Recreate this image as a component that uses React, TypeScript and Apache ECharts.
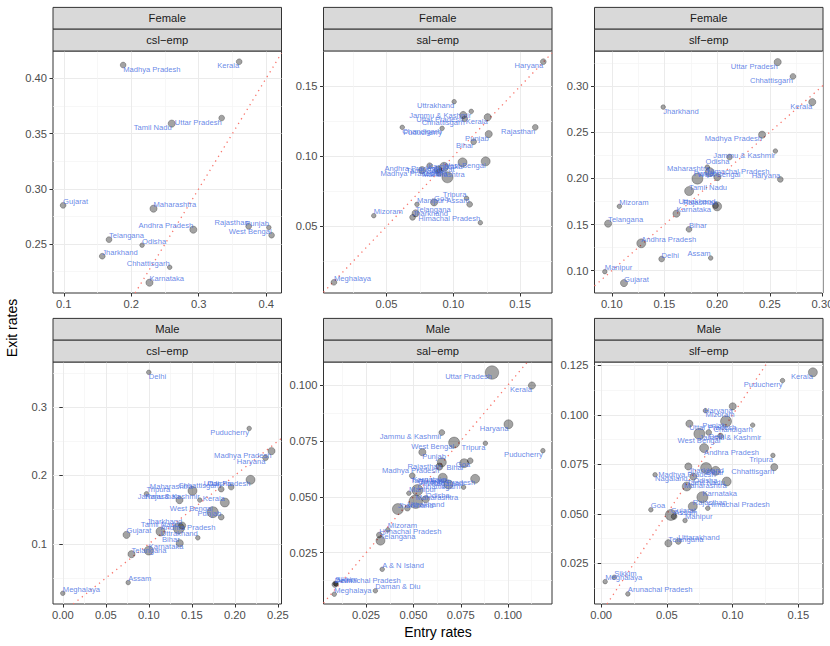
import React, { useEffect, useRef } from "react";
import * as echarts from "echarts";

const rowLabels = ["Female", "Male"];
const colLabels = ["csl\u2212emp", "sal\u2212emp", "slf\u2212emp"];

// ---- Female, csl-emp ----
const fCslNames = ["Madhya Pradesh", "Kerala", "Uttar Pradesh", "Tamil Nadu", "Gujarat", "Maharashtra", "Andhra Pradesh", "Rajasthan", "Punjab", "West Bengal", "Telangana", "Odisha", "Jharkhand", "Chhattisgarh", "Karnataka"];
const fCslEntry = [0.188, 0.360, 0.334, 0.260, 0.099, 0.233, 0.292, 0.374, 0.404, 0.408, 0.167, 0.216, 0.157, 0.257, 0.227];
const fCslExit = [0.412, 0.415, 0.364, 0.359, 0.285, 0.282, 0.263, 0.266, 0.265, 0.258, 0.254, 0.249, 0.239, 0.229, 0.215];
const fCslWeight = [2, 2, 2, 3, 2, 3, 3, 2, 1, 2, 2, 1, 2, 1, 3];
const fCslXTicks = [0.1, 0.2, 0.3, 0.4];
const fCslYTicks = [0.25, 0.3, 0.35, 0.4];

// ---- Female, sal-emp ----
const fSalNames = ["Haryana", "Uttrakhand", "Jammu & Kashmir", "Uttar Pradesh", "Chhattisgarh", "Kerala", "Chandigarh", "Puducherry", "Rajasthan", "Punjab", "Bihar", "West Bengal", "Karnataka", "Gujarat", "Tamil Nadu", "Madhya Pradesh", "Andhra Pradesh", "Maharashtra", "Odisha", "Tripura", "Assam", "Manipur", "Goa", "Telangana", "Jharkhand", "Himachal Pradesh", "Mizoram", "Meghalaya"];
const fSalEntry = [0.1673, 0.1006, 0.1134, 0.1074, 0.1085, 0.1257, 0.0618, 0.0916, 0.1613, 0.1265, 0.1152, 0.1242, 0.1069, 0.0823, 0.0931, 0.0885, 0.0895, 0.0766, 0.0956, 0.1099, 0.1122, 0.0728, 0.0856, 0.0718, 0.0695, 0.1202, 0.0405, 0.0107];
const fSalExit = [0.1676, 0.139, 0.1321, 0.1295, 0.1268, 0.1279, 0.1207, 0.120, 0.1207, 0.1159, 0.1104, 0.0964, 0.0957, 0.0933, 0.0925, 0.0905, 0.0885, 0.0902, 0.085, 0.070, 0.0657, 0.0657, 0.0671, 0.0593, 0.0564, 0.0526, 0.0576, 0.010];
const fSalWeight = [2, 1, 1, 3, 2, 3, 1, 1, 2, 3, 2, 4, 4, 2, 4, 3, 3, 3, 5, 1, 2, 1, 3, 3, 2, 1, 1, 2];
const fSalXTicks = [0.05, 0.1, 0.15];
const fSalYTicks = [0.05, 0.1, 0.15];

// ---- Female, slf-emp ----
const fSlfNames = ["Uttar Pradesh", "Chhattisgarh", "Kerala", "Jharkhand", "Madhya Pradesh", "Jammu & Kashmir", "Odisha", "Himachal Pradesh", "Maharashtra", "West Bengal", "Punjab", "Haryana", "Tamil Nadu", "Rajasthan", "Uttrakhand", "Karnataka", "Mizoram", "Telangana", "Bihar", "Andhra Pradesh", "Delhi", "Assam", "Manipur", "Gujarat"];
const fSlfEntry = [0.2575, 0.272, 0.2903, 0.1488, 0.2427, 0.2553, 0.2118, 0.1907, 0.1929, 0.1813, 0.2002, 0.26, 0.1734, 0.2, 0.1985, 0.1614, 0.1072, 0.0965, 0.1733, 0.128, 0.1473, 0.1939, 0.0934, 0.1116];
const fSlfExit = [0.3259, 0.3104, 0.2826, 0.2772, 0.2473, 0.2296, 0.2231, 0.2122, 0.2068, 0.1997, 0.2014, 0.1989, 0.1863, 0.1697, 0.1705, 0.1618, 0.1697, 0.151, 0.1448, 0.1297, 0.1127, 0.1138, 0.099, 0.0867];
const fSlfWeight = [3, 2, 3, 1, 3, 1, 2, 1, 4, 5, 3, 2, 4, 4, 2, 3, 1, 3, 2, 4, 2, 1, 1, 3];
const fSlfXTicks = [0.1, 0.15, 0.2, 0.25, 0.3];
const fSlfYTicks = [0.1, 0.15, 0.2, 0.25, 0.3];

// ---- Male, csl-emp ----
const mCslNames = ["Delhi", "Puducherry", "Madhya Pradesh", "Haryana", "Uttar Pradesh", "Odisha", "Chhattisgarh", "Maharashtra", "Tripura", "Jammu & Kashmir", "Rajasthan", "Kerala", "West Bengal", "Punjab", "Jharkhand", "Tamil Nadu", "Andhra Pradesh", "Uttrakhand", "Bihar", "Gujarat", "Karnataka", "Telangana", "Assam", "Meghalaya"];
const mCslEntry = [0.100, 0.2167, 0.2427, 0.2357, 0.2183, 0.1958, 0.1842, 0.1508, 0.0973, 0.1593, 0.1357, 0.1884, 0.1744, 0.1842, 0.1388, 0.1349, 0.1136, 0.157, 0.136, 0.0741, 0.100, 0.0799, 0.076, 0.0];
const mCslExit = [0.3508, 0.2688, 0.2357, 0.2259, 0.1937, 0.183, 0.180, 0.1776, 0.1732, 0.164, 0.164, 0.1605, 0.1464, 0.1391, 0.1268, 0.123, 0.118, 0.1088, 0.101, 0.1132, 0.0902, 0.0849, 0.0434, 0.0278];
const mCslWeight = [1, 1, 3, 2, 4, 2, 2, 4, 1, 1, 3, 4, 5, 2, 3, 5, 4, 1, 3, 3, 4, 3, 1, 1];
const mCslXTicks = [0, 0.05, 0.1, 0.15, 0.2, 0.25];
const mCslYTicks = [0.1, 0.2, 0.3];

// ---- Male, sal-emp ----
const mSalNames = ["Uttar Pradesh", "Kerala", "Haryana", "Jammu & Kashmir", "Tripura", "West Bengal", "Puducherry", "Punjab", "Madhya Pradesh", "Bihar", "Goa", "Rajasthan", "Karnataka", "Gujarat", "Andhra Pradesh", "Tamil Nadu", "Nagaland", "Chhattisgarh", "Manipur", "Odisha", "Maharashtra", "Jharkhand", "Uttrakhand", "Mizoram", "Himachal Pradesh", "Telangana", "A & N Island", "Sikkim", "Arunachal Pradesh", "Delhi", "Daman & Diu", "Meghalaya"];
const mSalEntry = [0.0915, 0.1126, 0.1002, 0.065, 0.088, 0.0715, 0.1184, 0.0547, 0.0637, 0.0768, 0.080, 0.065, 0.0494, 0.0655, 0.0826, 0.0685, 0.0765, 0.0521, 0.0476, 0.0565, 0.0512, 0.0418, 0.0468, 0.0365, 0.032, 0.0326, 0.0335, 0.0087, 0.0092, 0.0085, 0.0299, 0.0082];
const mSalExit = [0.1055, 0.0997, 0.0824, 0.0787, 0.0739, 0.0742, 0.0706, 0.0699, 0.0635, 0.065, 0.0661, 0.0654, 0.0594, 0.0585, 0.058, 0.0555, 0.0543, 0.053, 0.0516, 0.0489, 0.0478, 0.0445, 0.0449, 0.0352, 0.0329, 0.0304, 0.0176, 0.0113, 0.011, 0.0108, 0.008, 0.0065];
const mSalWeight = [6, 3, 4, 2, 1, 5, 1, 3, 3, 4, 2, 4, 2, 4, 4, 4, 1, 5, 1, 3, 6, 5, 2, 1, 2, 4, 1, 1, 1, 2, 1, 1];
const mSalXTicks = [0.025, 0.05, 0.075, 0.1];
const mSalYTicks = [0.025, 0.05, 0.075, 0.1];

// ---- Male, slf-emp ----
const mSlfNames = ["Kerala", "Puducherry", "Haryana", "Mizoram", "Punjab", "Chandigarh", "Uttar Pradesh", "Jammu & Kashmir", "Delhi", "West Bengal", "Andhra Pradesh", "Tripura", "Chhattisgarh", "Jharkhand", "Madhya Pradesh", "Bihar", "Maharashtra", "Nagaland", "Odisha", "Tamil Nadu", "Karnataka", "Rajasthan", "Himachal Pradesh", "Goa", "Gujarat", "Assam", "Manipur", "Telangana", "Uttarakhand", "Sikkim", "Meghalaya", "Arunachal Pradesh"];
const mSlfEntry = [0.1611, 0.138, 0.1001, 0.0793, 0.095, 0.1153, 0.0671, 0.0747, 0.0818, 0.0908, 0.0783, 0.1307, 0.1317, 0.0663, 0.0871, 0.0798, 0.0955, 0.041, 0.0701, 0.0651, 0.077, 0.0697, 0.0811, 0.0378, 0.053, 0.0555, 0.0638, 0.0511, 0.0587, 0.0099, 0.003, 0.0203];
const mSlfExit = [0.1215, 0.1173, 0.1043, 0.1021, 0.0967, 0.0948, 0.0955, 0.0904, 0.0911, 0.0893, 0.0832, 0.0795, 0.0736, 0.0739, 0.0717, 0.0731, 0.0663, 0.0697, 0.0688, 0.0638, 0.0584, 0.0537, 0.0528, 0.052, 0.0494, 0.0486, 0.0466, 0.0351, 0.036, 0.0179, 0.0157, 0.0095];
const mSlfWeight = [4, 1, 3, 1, 5, 1, 3, 5, 2, 2, 4, 1, 3, 3, 4, 5, 4, 1, 3, 4, 5, 4, 1, 1, 5, 2, 1, 3, 2, 1, 1, 1];
const mSlfXTicks = [0, 0.05, 0.1, 0.15];
const mSlfYTicks = [0.025, 0.05, 0.075, 0.1, 0.125];

// axis ranges (panel limits) per facet
const xRanges: [number, number][] = [[0.084, 0.4227], [0.0029, 0.1738], [0.0836, 0.3005], [-0.0114, 0.2543], [0.0025, 0.1232], [-0.0051, 0.1688]];
const yRanges: [number, number][] = [[0.2057, 0.4247], [0.0024, 0.1752], [0.0759, 0.3379], [0.0121, 0.3659], [0.0021, 0.1102], [0.0044, 0.1267]];
const xDecimals = [1, 2, 2, 2, 3, 2];
const yDecimals = [2, 2, 2, 1, 3, 3];

const panels = [
  { names: fCslNames, entry: fCslEntry, exit: fCslExit, weight: fCslWeight, xTicks: fCslXTicks, yTicks: fCslYTicks },
  { names: fSalNames, entry: fSalEntry, exit: fSalExit, weight: fSalWeight, xTicks: fSalXTicks, yTicks: fSalYTicks },
  { names: fSlfNames, entry: fSlfEntry, exit: fSlfExit, weight: fSlfWeight, xTicks: fSlfXTicks, yTicks: fSlfYTicks },
  { names: mCslNames, entry: mCslEntry, exit: mCslExit, weight: mCslWeight, xTicks: mCslXTicks, yTicks: mCslYTicks },
  { names: mSalNames, entry: mSalEntry, exit: mSalExit, weight: mSalWeight, xTicks: mSalXTicks, yTicks: mSalYTicks },
  { names: mSlfNames, entry: mSlfEntry, exit: mSlfExit, weight: mSlfWeight, xTicks: mSlfXTicks, yTicks: mSlfYTicks },
];

// layout
const COL_LEFT = [53, 323.5, 594.5];
const PANEL_W = 228.5;
const ROW_TOP = [51, 362];
const PANEL_H = 242;
const STRIP_H = 21.8;
const FONT = "'Liberation Sans', Arial, Helvetica, sans-serif";
const SIZE_BY_WEIGHT = [0, 4.6, 5.8, 7.2, 9, 11, 13.5];

function buildOption() {
  const grid: any[] = [];
  const xAxis: any[] = [];
  const yAxis: any[] = [];
  const series: any[] = [];
  const graphic: any[] = [];

  panels.forEach((p, i) => {
    const r = Math.floor(i / 3);
    const c = i % 3;
    const [xmin, xmax] = xRanges[i];
    const [ymin, ymax] = yRanges[i];
    const xInt = p.xTicks[1] - p.xTicks[0];
    const yInt = p.yTicks[1] - p.yTicks[0];

    grid.push({
      left: COL_LEFT[c],
      top: ROW_TOP[r],
      width: PANEL_W,
      height: PANEL_H,
      show: true,
      backgroundColor: "#ffffff",
      borderColor: "#333333",
      borderWidth: 1,
      containLabel: false,
      outerBoundsMode: "none",
    });

    const common = (ticks: number[], dec: number, interval: number, margin: number) => ({
      type: "value",
      minInterval: interval,
      maxInterval: interval,
      splitNumber: 5,
      axisLine: { show: false },
      axisTick: {
        show: true,
        length: 3.5,
        customValues: ticks,
        lineStyle: { color: "#333333", width: 1 },
      },
      axisLabel: {
        show: true,
        customValues: ticks,
        color: "#4D4D4D",
        fontSize: 11.2,
        fontFamily: FONT,
        margin,
        formatter: (v: number) => v.toFixed(dec),
      },
      splitLine: { show: true, lineStyle: { color: "#EBEBEB", width: 1 } },
      minorTick: { show: false, splitNumber: 2 },
      minorSplitLine: { show: true, lineStyle: { color: "#F3F3F3", width: 0.7 } },
    });

    xAxis.push({
      ...common(p.xTicks, xDecimals[i], xInt, 5),
      gridIndex: i,
      min: xmin,
      max: xmax,
    });
    yAxis.push({
      ...common(p.yTicks, yDecimals[i], yInt, 6),
      gridIndex: i,
      min: ymin,
      max: ymax,
    });

    // identity reference line y = x across the visible part of the panel
    const lo = Math.max(xmin, ymin);
    const hi = Math.min(xmax, ymax);
    series.push({
      type: "line",
      xAxisIndex: i,
      yAxisIndex: i,
      data: [[lo, lo], [hi, hi]],
      symbol: "none",
      silent: true,
      clip: true,
      z: 2,
      lineStyle: { color: "#F8766D", width: 1.3, type: [1.3, 4.2] },
    });

    const items = p.names.map((name, k) => {
      const nx = (p.entry[k] - xmin) / (xmax - xmin);
      const ny = (p.exit[k] - ymin) / (ymax - ymin);
      return {
        name,
        value: [p.entry[k], p.exit[k], p.weight[k]],
        label: {
          position: ["50%", "50%"],
          align: nx < 0.5 ? "left" : "right",
          verticalAlign: ny < 0.5 ? "bottom" : "top",
        },
      };
    });

    series.push({
      type: "scatter",
      xAxisIndex: i,
      yAxisIndex: i,
      data: items,
      symbolSize: (v: number[]) => SIZE_BY_WEIGHT[v[2]],
      z: 3,
      silent: true,
      itemStyle: {
        color: "rgba(0,0,0,0.45)",
        borderColor: "rgba(0,0,0,0.45)",
        borderWidth: 0.7,
      },
      label: {
        show: true,
        formatter: "{b}",
        fontSize: 7.6,
        fontFamily: FONT,
        color: "#4169E1",
        textBorderWidth: 0,
        textBorderColor: "transparent",
      },
      labelLayout: { hideOverlap: false },
    });

    // facet strips
    const labels = [rowLabels[r], colLabels[c]];
    labels.forEach((t, s) => {
      const y0 = ROW_TOP[r] - (2 - s) * STRIP_H;
      graphic.push({
        type: "rect",
        shape: { x: COL_LEFT[c], y: y0, width: PANEL_W, height: STRIP_H },
        style: { fill: "#D9D9D9", stroke: "#333333", lineWidth: 1 },
        silent: true,
        z: 10,
      });
      graphic.push({
        type: "text",
        x: COL_LEFT[c] + PANEL_W / 2,
        y: y0 + STRIP_H / 2,
        style: {
          text: t,
          fontSize: 11.2,
          fontFamily: FONT,
          fill: "#1A1A1A",
          align: "center",
          verticalAlign: "middle",
        },
        silent: true,
        z: 11,
      });
    });
  });

  graphic.push({
    type: "text",
    x: 12,
    y: 328,
    rotation: Math.PI / 2,
    style: {
      text: "Exit rates",
      fontSize: 14,
      fontFamily: FONT,
      fill: "#000000",
      align: "center",
      verticalAlign: "middle",
    },
    silent: true,
  });
  graphic.push({
    type: "text",
    x: 438,
    y: 632,
    style: {
      text: "Entry rates",
      fontSize: 14,
      fontFamily: FONT,
      fill: "#000000",
      align: "center",
      verticalAlign: "middle",
    },
    silent: true,
  });

  return {
    animation: false,
    backgroundColor: "#ffffff",
    textStyle: { fontFamily: FONT },
    grid,
    xAxis,
    yAxis,
    series,
    graphic,
  };
}

export default function App() {
  const ref = useRef<HTMLDivElement>(null);
  useEffect(() => {
    document.body.style.margin = "0";
    if (!ref.current) return;
    const chart = echarts.init(ref.current, undefined, { renderer: "svg" });
    chart.setOption(buildOption() as any);
    return () => chart.dispose();
  }, []);
  return <div ref={ref} style={{ width: 830, height: 646 }} />;
}
